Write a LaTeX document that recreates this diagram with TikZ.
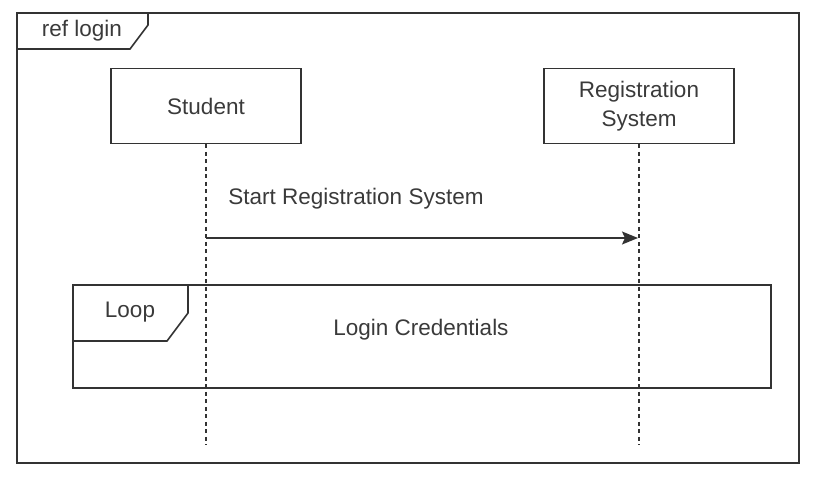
\documentclass[tikz,border=0pt]{standalone}
\usepackage{fontspec}
\setmainfont{Liberation Sans}
\usetikzlibrary{arrows.meta}
\definecolor{linegray}{HTML}{333333}
\definecolor{textgray}{HTML}{3A3A3A}
\begin{document}
\begin{tikzpicture}[x=1pt,y=-1pt,
    every node/.style={text=textgray,font=\fontsize{22.5}{29}\selectfont},
    frameline/.style={draw=linegray,line width=1.6pt,line join=miter},
    lifebox/.style={draw=linegray,line width=1.6pt,minimum width=190pt,minimum height=75pt,align=center,inner sep=0pt},
    lifeline/.style={draw=linegray,line width=1.5pt,dash pattern=on 4pt off 3.5pt},
    message/.style={draw=linegray,line width=1.5pt,-{Stealth[length=16pt,width=13pt,inset=3pt]}}]
  \useasboundingbox (0,0) rectangle (819,495);
  % frame: ref login
  \draw[frameline] (17,13) rectangle (799,463);
  \draw[frameline] (17,13) -- (148,13) -- (148,25) -- (130,49) -- (17,49);
  \node (reflabel) at (82,31) {ref login};
  % participants
  \node[lifebox] (student) at (206,106) {Student};
  \node[lifebox] (regsys) at (639,106) {Registration\\System};
  \coordinate (studentEnd) at (206,445);
  \coordinate (regsysEnd) at (639,445);
  \begin{scope}[lifeline]
    \draw (student) -- (studentEnd);
    \draw (regsys) -- (regsysEnd);
  \end{scope}
  % message
  \coordinate (msgStart) at (206,238);
  \coordinate (msgEnd) at (638,238);
  \draw[message] (msgStart) -- (msgEnd);
  \node (msglabel) at (356,199) {Start Registration System};
  % loop fragment
  \draw[frameline] (73,285) rectangle (771,388);
  \draw[frameline] (73,285) -- (188,285) -- (188,313) -- (167,341) -- (73,341);
  \node (looplabel) at (130,312) {Loop};
  \node (loopguard) at (421,330) {Login Credentials};
\end{tikzpicture}
\end{document}
